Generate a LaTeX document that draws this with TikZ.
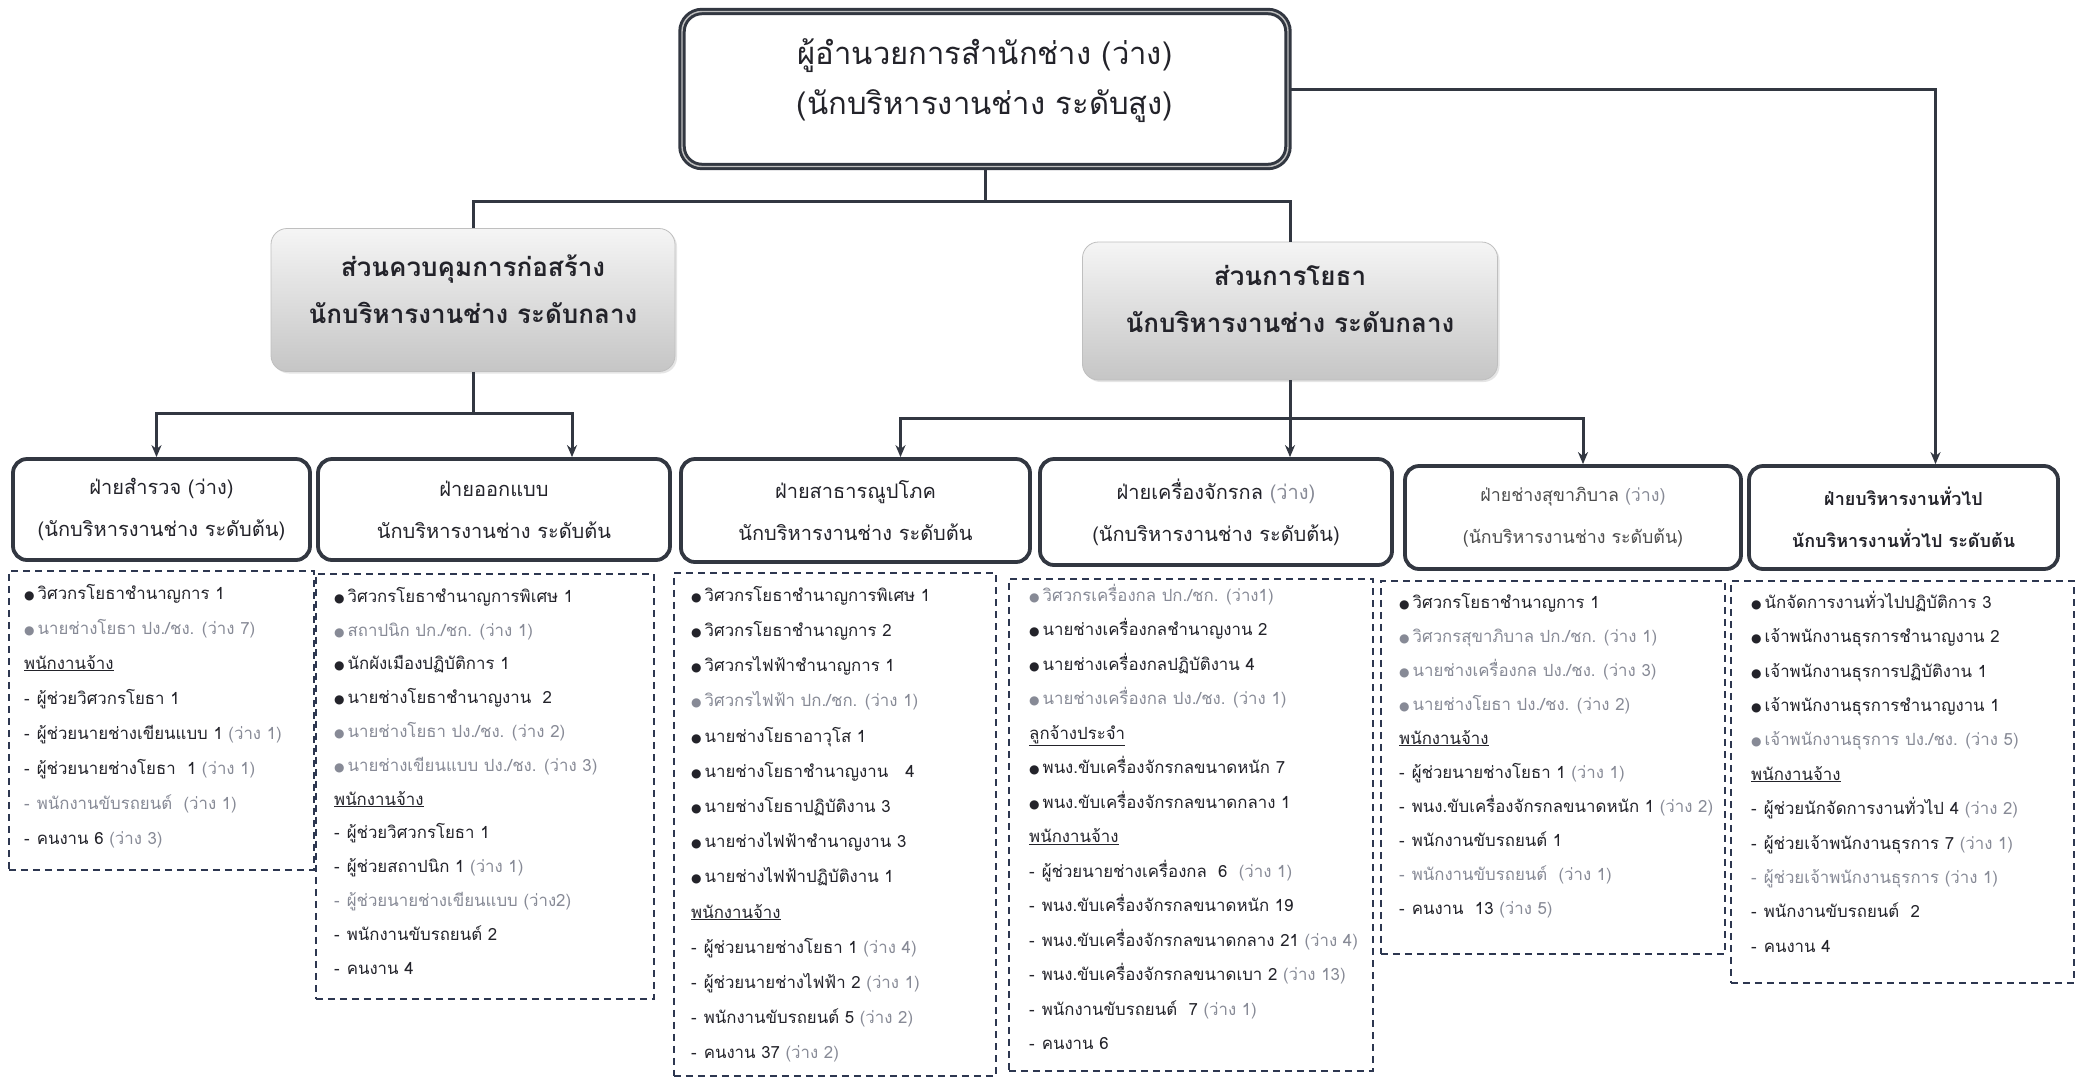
\documentclass[tikz,border=0pt]{standalone}
\usepackage{fontspec}
\setmainfont[Script=Thai]{Loma}
\newfontfamily\symfont{DejaVu Sans}
\usetikzlibrary{arrows.meta,shadows}
\definecolor{tdark}{RGB}{35,35,42}
\definecolor{tgray}{RGB}{135,138,150}
\definecolor{bdark}{RGB}{50,55,65}
\definecolor{ldash}{RGB}{45,55,80}
\newcommand{\bi}{{\symfont\fontsize{12pt}{12pt}\selectfont ●}\hspace{3pt}}
\newcommand{\vac}[1]{\textcolor{tgray}{#1}}
\newcommand{\hd}[1]{\underline{#1}}
\newcommand{\fst}{\rule{0pt}{20pt}}
\newcommand{\dsh}{-\hspace{7pt}}
\begin{document}
\begin{tikzpicture}[x=1pt,y=-1pt,
  conn/.style={line width=3pt, draw=bdark},
  arr/.style={conn, -{Stealth[length=12pt,width=10pt]}},
  topbox/.style={draw=bdark, line width=3pt, double=gray!50, double distance=1.4pt,
    rounded corners=20pt, fill=white, align=center, text=tdark, inner sep=0pt,
    font=\fontsize{31pt}{50pt}\selectfont},
  midbox/.style={rounded corners=16pt, top color=gray!8, bottom color=gray!45, draw=gray!50,
    line width=0.8pt, align=center, text=tdark, inner sep=0pt,
    drop shadow={opacity=0.2, shadow xshift=2pt, shadow yshift=-2pt},
    font=\fontsize{26pt}{47pt}\selectfont\bfseries},
  divbox/.style={draw=bdark, line width=3.8pt, rounded corners=14pt, fill=white, align=center,
    text=tdark, inner sep=0pt, font=\fontsize{20pt}{42pt}\selectfont},
  listbox/.style={draw=ldash, line width=1.6pt, dash pattern=on 7pt off 5pt, anchor=north west, inner sep=0pt},
  listtext/.style={anchor=north west, inner sep=0pt, align=left, text=tdark}
]
\fill[white] (0,0) rectangle (2075,1080);
\useasboundingbox (0,0) rectangle (2075,1080);

% top
\node[topbox, minimum width=606pt, minimum height=155pt] (T) at (985,89) {};
\node[align=center, text=tdark, font=\fontsize{31pt}{50pt}\selectfont] (Tt) at (985,81)
  {ผู้อำนวยการสำนักช่าง (ว่าง)\\(นักบริหารงานช่าง ระดับสูง)};

% middle
\node[midbox, minimum width=404pt, minimum height=143pt] (M1) at (473,300) {};
\node[align=center, text=tdark, font=\fontsize{26pt}{47pt}\selectfont\bfseries] (M1t) at (473,289)
  {ส่วนควบคุมการก่อสร้าง\\นักบริหารงานช่าง ระดับกลาง};
\node[midbox, minimum width=415pt, minimum height=138pt] (M2) at (1290,311) {};
\node[align=center, text=tdark, font=\fontsize{26pt}{47pt}\selectfont\bfseries] (M2t) at (1290,299)
  {ส่วนการโยธา\\นักบริหารงานช่าง ระดับกลาง};

% divisions
\node[divbox, minimum width=297pt, minimum height=101pt] (D1) at (161.5,509.5)
  {ฝ่ายสำรวจ (ว่าง)\\(นักบริหารงานช่าง ระดับต้น)};
\node[divbox, minimum width=352pt, minimum height=101pt] (D2) at (494,509.5)
  {ฝ่ายออกแบบ\\นักบริหารงานช่าง ระดับต้น};
\node[divbox, minimum width=349pt, minimum height=103pt] (D3) at (855.5,510.5)
  {ฝ่ายสาธารณูปโภค\\นักบริหารงานช่าง ระดับต้น};
\node[divbox, minimum width=352pt, minimum height=106pt] (D4) at (1216,512)
  {ฝ่ายเครื่องจักรกล \vac{(ว่าง)}\\(นักบริหารงานช่าง ระดับต้น)};
\node[divbox, minimum width=336pt, minimum height=103pt, text=black!70,
  font=\fontsize{17.8pt}{42pt}\selectfont] (D5) at (1573,517.5)
  {ฝ่ายช่างสุขาภิบาล \vac{(ว่าง)}\\(นักบริหารงานช่าง ระดับต้น)};
\node[divbox, minimum width=309pt, minimum height=103pt,
  font=\fontsize{18pt}{42pt}\selectfont\bfseries] (D6) at (1903.5,517.5)
  {ฝ่ายบริหารงานทั่วไป\\นักบริหารงานทั่วไป ระดับต้น};

% connectors
\coordinate (j1) at (985,201);
\draw[conn] (T.south) -- (j1);
\draw[conn] (j1) -| (M1.north);
\draw[conn] (j1) -| (M2.north);
\coordinate (j2) at (473,413);
\draw[conn] (M1.south) -- (j2);
\draw[arr] (j2) -| ([xshift=-5pt]D1.north);
\draw[arr] (j2) -| ([xshift=78pt]D2.north);
\coordinate (j3) at (1290,418);
\draw[arr] (M2.south) -- (M2.south |- D4.north);
\draw[arr] (j3) -| ([xshift=45pt]D3.north);
\draw[arr] (j3) -| ([xshift=10pt]D5.north);
\draw[arr] (T.east) -| ([xshift=32pt]D6.north);

% list boxes
\node[listbox, minimum width=305pt, minimum height=299pt] (L1) at (8,570) {};
\node[listbox, minimum width=338pt, minimum height=425pt] (L2) at (315,573) {};
\node[listbox, minimum width=322pt, minimum height=503pt] (L3) at (673,572) {};
\node[listbox, minimum width=364pt, minimum height=492pt] (L4) at (1008,578) {};
\node[listbox, minimum width=344pt, minimum height=373pt] (L5) at (1380,580) {};
\node[listbox, minimum width=343pt, minimum height=402pt] (L6) at (1730,580) {};

\node[listtext, font=\fontsize{16.8pt}{35pt}\selectfont] (T1) at (24,579) {%
\fst\bi วิศวกรโยธาชำนาญการ 1\\
\vac{\bi นายช่างโยธา ปง./ชง. (ว่าง 7)}\\
\hd{พนักงานจ้าง}\\
\dsh ผู้ช่วยวิศวกรโยธา 1\\
\dsh ผู้ช่วยนายช่างเขียนแบบ 1 \vac{(ว่าง 1)}\\
\dsh ผู้ช่วยนายช่างโยธา~~1 \vac{(ว่าง 1)}\\
\vac{\dsh พนักงานขับรถยนต์~~(ว่าง 1)}\\
\dsh คนงาน 6 \vac{(ว่าง 3)}};

\node[listtext, font=\fontsize{16.8pt}{33.8pt}\selectfont] (T2) at (334,582) {%
\fst\bi วิศวกรโยธาชำนาญการพิเศษ 1\\
\vac{\bi สถาปนิก ปก./ชก. (ว่าง 1)}\\
\bi นักผังเมืองปฏิบัติการ 1\\
\bi นายช่างโยธาชำนาญงาน~~2\\
\vac{\bi นายช่างโยธา ปง./ชง. (ว่าง 2)}\\
\vac{\bi นายช่างเขียนแบบ ปง./ชง. (ว่าง 3)}\\
\hd{พนักงานจ้าง}\\
\dsh ผู้ช่วยวิศวกรโยธา 1\\
\dsh ผู้ช่วยสถาปนิก 1 \vac{(ว่าง 1)}\\
\vac{\dsh ผู้ช่วยนายช่างเขียนแบบ (ว่าง2)}\\
\dsh พนักงานขับรถยนต์ 2\\
\dsh คนงาน 4};

\node[listtext, font=\fontsize{16.8pt}{35.2pt}\selectfont] (T3) at (691,581) {%
\fst\bi วิศวกรโยธาชำนาญการพิเศษ 1\\
\bi วิศวกรโยธาชำนาญการ 2\\
\bi วิศวกรไฟฟ้าชำนาญการ 1\\
\vac{\bi วิศวกรไฟฟ้า ปก./ชก. (ว่าง 1)}\\
\bi นายช่างโยธาอาวุโส 1\\
\bi นายช่างโยธาชำนาญงาน~~~4\\
\bi นายช่างโยธาปฏิบัติงาน 3\\
\bi นายช่างไฟฟ้าชำนาญงาน 3\\
\bi นายช่างไฟฟ้าปฏิบัติงาน 1\\
\hd{พนักงานจ้าง}\\
\dsh ผู้ช่วยนายช่างโยธา 1 \vac{(ว่าง 4)}\\
\dsh ผู้ช่วยนายช่างไฟฟ้า 2 \vac{(ว่าง 1)}\\
\dsh พนักงานขับรถยนต์ 5 \vac{(ว่าง 2)}\\
\dsh คนงาน 37 \vac{(ว่าง 2)}};

\node[listtext, font=\fontsize{16.8pt}{34.5pt}\selectfont] (T4) at (1029,581) {%
\fst\vac{\bi วิศวกรเครื่องกล ปก./ชก. (ว่าง1)}\\
\bi นายช่างเครื่องกลชำนาญงาน 2\\
\bi นายช่างเครื่องกลปฏิบัติงาน 4\\
\vac{\bi นายช่างเครื่องกล ปง./ชง. (ว่าง 1)}\\
\hd{ลูกจ้างประจำ}\\
\bi พนง.ขับเครื่องจักรกลขนาดหนัก 7\\
\bi พนง.ขับเครื่องจักรกลขนาดกลาง 1\\
\hd{พนักงานจ้าง}\\
\dsh ผู้ช่วยนายช่างเครื่องกล~~6~~\vac{(ว่าง 1)}\\
\dsh พนง.ขับเครื่องจักรกลขนาดหนัก 19\\
\dsh พนง.ขับเครื่องจักรกลขนาดกลาง 21 \vac{(ว่าง 4)}\\
\dsh พนง.ขับเครื่องจักรกลขนาดเบา 2 \vac{(ว่าง 13)}\\
\dsh พนักงานขับรถยนต์~~7 \vac{(ว่าง 1)}\\
\dsh คนงาน 6};

\node[listtext, font=\fontsize{16.8pt}{34pt}\selectfont] (T5) at (1399,588) {%
\fst\bi วิศวกรโยธาชำนาญการ 1\\
\vac{\bi วิศวกรสุขาภิบาล ปก./ชก. (ว่าง 1)}\\
\vac{\bi นายช่างเครื่องกล ปง./ชง. (ว่าง 3)}\\
\vac{\bi นายช่างโยธา ปง./ชง. (ว่าง 2)}\\
\hd{พนักงานจ้าง}\\
\dsh ผู้ช่วยนายช่างโยธา 1 \vac{(ว่าง 1)}\\
\dsh พนง.ขับเครื่องจักรกลขนาดหนัก 1 \vac{(ว่าง 2)}\\
\dsh พนักงานขับรถยนต์ 1\\
\vac{\dsh พนักงานขับรถยนต์~~(ว่าง 1)}\\
\dsh คนงาน~~13 \vac{(ว่าง 5)}};

\node[listtext, font=\fontsize{16.8pt}{34.4pt}\selectfont] (T6) at (1751,588) {%
\fst\bi นักจัดการงานทั่วไปปฏิบัติการ 3\\
\bi เจ้าพนักงานธุรการชำนาญงาน 2\\
\bi เจ้าพนักงานธุรการปฏิบัติงาน 1\\
\bi เจ้าพนักงานธุรการชำนาญงาน 1\\
\vac{\bi เจ้าพนักงานธุรการ ปง./ชง. (ว่าง 5)}\\
\hd{พนักงานจ้าง}\\
\dsh ผู้ช่วยนักจัดการงานทั่วไป 4 \vac{(ว่าง 2)}\\
\dsh ผู้ช่วยเจ้าพนักงานธุรการ 7 \vac{(ว่าง 1)}\\
\vac{\dsh ผู้ช่วยเจ้าพนักงานธุรการ (ว่าง 1)}\\
\dsh พนักงานขับรถยนต์~~2\\
\dsh คนงาน 4};
\end{tikzpicture}
\end{document}
